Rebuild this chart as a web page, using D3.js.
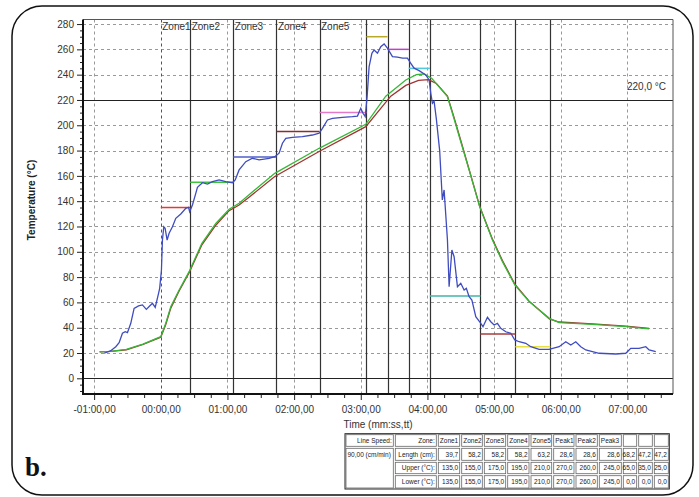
<!DOCTYPE html>
<html>
<head>
<meta charset="utf-8">
<script src="https://cdn.jsdelivr.net/npm/d3@7"></script>
<style>
  body { margin: 0; background: #fff; }
  svg { display: block; font-family: 'Liberation Sans', Arial, sans-serif; }
</style>
</head>
<body>
<script>
// profile data, time in seconds, temperature in °C
const blueCurve = [
  [-51, 19.8], [-45, 21.8], [-40.5, 25], [-37.5, 28.1], [-34.5, 35.6], [-32, 36.8], [-30, 36.1],
  [-27, 43.5], [-24, 55.3], [-20, 57.2], [-16.5, 58], [-13, 54.5], [-10, 57.2], [-7.5, 59.3],
  [-5, 56.1], [-2, 67.2], [-1, 71.1], [0.6, 85.6], [1.5, 109.3], [2.7, 119.8], [3.9, 118.6],
  [5.7, 109.3], [7.5, 114.6], [10.5, 119.8], [13.5, 126.5], [18, 129.9], [22.5, 134.4],
  [25, 135.2], [26, 131.7], [28.5, 137], [31.5, 146.2], [33, 151], [37.5, 154.6], [42, 153.5],
  [46.5, 155.4], [52.5, 156.8], [58.5, 155.4], [64.5, 154.6], [67, 156.8], [70.5, 164.7],
  [76.5, 171.2], [82.5, 173.9], [88.5, 172.6], [97.5, 173.9], [102.6, 175.2], [106.5, 177.9],
  [109.5, 185.8], [112.5, 189.7], [118.5, 190.5], [127.5, 191], [136.5, 192.3], [142.5, 193.7],
  [145.5, 197.6], [150, 204.2], [154.5, 205.5], [163.5, 206.3], [172.5, 206.8], [177, 207.3],
  [180, 213.4], [182, 209.5], [184, 206.8], [185.7, 222.6], [187.5, 246.3], [190, 256.9],
  [192, 259.5], [195, 256.9], [198, 262.1], [201, 264.3], [204, 260.9], [208.5, 254.2],
  [213, 253.8], [217.5, 253], [222, 253], [225, 249], [228, 245.1], [232.5, 243.2],
  [238.5, 239.8], [241.5, 235.8], [243, 225.3], [244.5, 217.4], [246, 219], [248, 205],
  [251, 180], [253.4, 141], [255, 148.9], [258, 109.3], [259.5, 72.4], [262, 101.4], [264, 96.1],
  [267, 72.4], [270, 75.1], [273, 69.8], [275, 71.1], [277.5, 64.5], [280, 61.9], [283.5, 48.7],
  [287, 44.7], [290, 40.8], [294, 48.2], [297, 44.7], [300, 42.1], [303, 43.5], [306, 39.5],
  [310.5, 36.8], [315, 35.6], [318.6, 30.3], [322.5, 28.9], [328.5, 27.7], [333, 25],
  [340.5, 22.9], [349.5, 22.9], [358.5, 25], [364.5, 28.9], [369, 26.3], [373.5, 28.9],
  [378, 25], [382.5, 22.4], [394.5, 19.8], [409.5, 19.2], [418.5, 19.8], [423, 23.7],
  [430.5, 23.7], [436.5, 25], [439.5, 22.4], [445.5, 21]
];

const greenCurve = [
  [-55, 21], [-45, 21.3], [-31, 22.9], [-16, 27.1], [0, 32.9], [4.5, 43.5], [9, 56.6],
  [16.5, 69.8], [25.5, 84.3], [37, 106.7], [49.5, 122.5], [61.5, 133.6], [70.5, 138.3],
  [80, 145.5], [102.6, 162], [142.5, 181.8], [184.5, 200.8], [202.5, 223], [220.5, 235.8],
  [230, 240], [237, 240.5], [244, 237], [250, 231], [258, 222.6], [264, 205], [270, 187],
  [277.5, 164.7], [287, 135.7], [298.5, 109.3], [307.5, 92.2], [318.6, 73.8], [331.5, 60.6],
  [349.7, 47.4], [358.5, 44], [388.5, 42.7], [418.5, 40.8], [439.5, 39]
];

const redCurve = [
  [-55, 21], [-45, 21.3], [-31, 22.5], [-16, 26.8], [0, 32.5], [4.5, 42.5], [9, 55.5],
  [16.5, 69], [25.5, 83.5], [37, 105.5], [49.5, 121], [61.5, 132.5], [70.5, 137],
  [80, 143.5], [102.6, 159.5], [142.5, 179.3], [184.5, 198.9], [207, 223], [220.5, 231.5],
  [232, 235.5], [241, 236], [248, 233], [258, 223], [264, 206], [270, 188],
  [277.5, 165], [287, 136], [298.5, 110], [307.5, 93], [318.6, 74.5], [331.5, 61],
  [349.7, 47], [358.5, 44.5], [388.5, 43], [418.5, 41.2], [439.5, 39.5]
];

// oven table
const lineSpeed = 90; // cm/min
const zoneNames = ['Zone1', 'Zone2', 'Zone3', 'Zone4', 'Zone5', 'Peak1', 'Peak2', 'Peak3', '', '', ''];
const zoneLengths = [39.7, 58.2, 58.2, 58.2, 63.2, 28.6, 28.6, 28.6, 68.2, 47.2, 47.2];
const zoneUpper = [135, 155, 175, 195, 210, 270, 260, 245, 65, 35, 25];
const zoneLower = [135, 155, 175, 195, 210, 270, 260, 245, 0, 0, 0];
const zoneColors = ['#e53935', '#3cc43c', '#5060c8', '#8b2e2e', '#e27ac8', '#b8a82a',
  '#c040c8', '#50c8e0', '#40b4a8', '#a83c3c', '#e8e040'];

const yTicks = d3.range(0, 281, 20);
const xTicks = d3.range(-60, 421, 60);
const refTemp = 220;

const W = 699, H = 497;
const svg = d3.select('body').append('svg').attr('width', W).attr('height', H);

const x = d3.scaleLinear().domain([-70, 461]).range([83, 673]);
const y = d3.scaleLinear().domain([-12.4, 283.6]).range([394, 19.5]);
const [xl, xr] = x.range();
const [yb, yt] = y.range();

// outer rounded frame
svg.append('rect')
  .attr('x', 12).attr('y', 6).attr('width', 681).attr('height', 489)
  .attr('rx', 30).attr('fill', 'none').attr('stroke', '#111').attr('stroke-width', 1.5);

// grid
const grid = svg.append('g').attr('stroke', '#999').attr('stroke-dasharray', '3,3').attr('stroke-width', 1);
grid.selectAll('.hg').data(yTicks.filter(d => d !== 0 && d !== refTemp)).enter()
  .append('line')
  .attr('x1', xl).attr('x2', xr)
  .attr('y1', d => Math.round(y(d)) + 0.5).attr('y2', d => Math.round(y(d)) + 0.5);
grid.selectAll('.vg').data(xTicks).enter()
  .append('line')
  .attr('y1', yt).attr('y2', yb)
  .attr('x1', d => Math.round(x(d)) + 0.5).attr('x2', d => Math.round(x(d)) + 0.5)
  .attr('stroke', d => (d === 0 ? '#555' : '#999'));

// zone boundaries
let acc = 0;
const zoneEdges = [0];
zoneLengths.forEach(l => {
  acc += l / (lineSpeed / 60);
  zoneEdges.push(acc);
});

svg.append('g').selectAll('line').data(zoneEdges.slice(1)).enter()
  .append('line')
  .attr('x1', d => Math.round(x(d)) + 0.5).attr('x2', d => Math.round(x(d)) + 0.5)
  .attr('y1', yt).attr('y2', yb)
  .attr('stroke', '#333').attr('stroke-width', 1.2);

// reference lines
svg.append('line')
  .attr('x1', xl).attr('x2', xr)
  .attr('y1', Math.round(y(refTemp)) + 0.5).attr('y2', Math.round(y(refTemp)) + 0.5)
  .attr('stroke', '#222').attr('stroke-width', 1.2);
svg.append('line')
  .attr('x1', xl).attr('x2', xr)
  .attr('y1', Math.round(y(0)) + 0.5).attr('y2', Math.round(y(0)) + 0.5)
  .attr('stroke', '#222').attr('stroke-width', 1.2);

svg.append('text')
  .attr('x', 627).attr('y', y(refTemp) - 10)
  .attr('font-size', 10).attr('fill', '#333')
  .text('220,0 °C');

// zone labels
svg.append('g').selectAll('text').data(zoneNames.slice(0, 5)).enter()
  .append('text')
  .attr('x', (d, i) => x(zoneEdges[i]) + 1.5)
  .attr('y', 30)
  .attr('font-size', 10).attr('fill', '#333')
  .text(d => d);

// set-point segments
svg.append('g').selectAll('line').data(zoneUpper).enter()
  .append('line')
  .attr('x1', (d, i) => x(zoneEdges[i])).attr('x2', (d, i) => x(zoneEdges[i + 1]))
  .attr('y1', d => y(d)).attr('y2', d => y(d))
  .attr('stroke', (d, i) => zoneColors[i]).attr('stroke-width', 1.5);

// curves
const line = d3.line().x(d => x(d[0])).y(d => y(d[1]));
[[redCurve, '#a03430'], [greenCurve, '#36b836'], [blueCurve, '#3f4cc0']].forEach(([data, col]) => {
  svg.append('path').datum(data)
    .attr('d', line).attr('fill', 'none')
    .attr('stroke', col).attr('stroke-width', 1.3);
});

// plot border
svg.append('path')
  .attr('d', `M${xl},${yt}H${xr}V${yb}`)
  .attr('fill', 'none').attr('stroke', '#555').attr('stroke-width', 1);

// axes
const fmtTime = s => {
  const sign = s < 0 ? '-' : '';
  const a = Math.abs(s);
  const m = Math.floor(a / 60), sec = a % 60;
  return `${sign}${String(m).padStart(2, '0')}:${String(sec).padStart(2, '0')},00`;
};

const yAxis = svg.append('g').attr('transform', `translate(${xl},0)`)
  .call(d3.axisLeft(y).tickValues(yTicks).tickSize(6).tickPadding(3));
svg.append('g').attr('transform', `translate(${xl},0)`)
  .call(d3.axisLeft(y).tickValues(d3.range(-10, 281, 5).filter(d => d % 20 !== 0)).tickSize(3).tickFormat(''));

const xAxis = svg.append('g').attr('transform', `translate(0,${yb})`)
  .call(d3.axisBottom(x).tickValues(xTicks).tickSize(6).tickPadding(6).tickFormat(fmtTime));
svg.append('g').attr('transform', `translate(0,${yb})`)
  .call(d3.axisBottom(x).tickValues(d3.range(-60, 456, 15).filter(d => d % 60 !== 0)).tickSize(4).tickFormat(''));

svg.selectAll('.domain').remove();
svg.selectAll('.tick line').attr('stroke', '#222');
svg.selectAll('.tick text').attr('font-size', 10).attr('fill', '#333')
  .attr('font-family', "'Liberation Sans', Arial, sans-serif");

svg.append('line').attr('x1', xl).attr('x2', xl).attr('y1', yt).attr('y2', yb + 1)
  .attr('stroke', '#111').attr('stroke-width', 2);
svg.append('line').attr('x1', xl - 1).attr('x2', xr).attr('y1', yb).attr('y2', yb)
  .attr('stroke', '#111').attr('stroke-width', 2);

// axis titles
svg.append('text')
  .attr('x', 378).attr('y', 428).attr('text-anchor', 'middle')
  .attr('font-size', 10).attr('fill', '#333')
  .text('Time (mm:ss,tt)');
svg.append('text')
  .attr('transform', 'translate(35,200) rotate(-90)')
  .attr('text-anchor', 'middle')
  .attr('font-size', 10).attr('font-weight', 'bold').attr('fill', '#222')
  .text('Temperature (°C)');

svg.append('text')
  .attr('x', 25).attr('y', 476)
  .attr('font-family', "'Liberation Serif', 'Times New Roman', serif")
  .attr('font-size', 27).attr('font-weight', 'bold').attr('fill', '#111')
  .text('b.');

// table
const colEdges = [345, 394.3, 437.3, 460.7, 483.3, 506.7, 530, 552.7, 575, 598.3, 622.3, 637.7, 653.3, 669.3];
const rowEdges = [433.7, 447.3, 461.3, 474.7, 489];
const fmt1 = v => d3.format('.1f')(v).replace('.', ',');
const table = svg.append('g').attr('font-size', 6.5).attr('fill', '#222');

const cells = [];
const rowLabels = ['Zone:', 'Length (cm):', 'Upper (°C):', 'Lower (°C):'];
const rowValues = [zoneNames, zoneLengths.map(fmt1), zoneUpper.map(fmt1), zoneLower.map(fmt1)];
cells.push({ c0: 0, c1: 1, r0: 0, r1: 1, text: 'Line Speed:', align: 'end' });
cells.push({ c0: 0, c1: 1, r0: 1, r1: 4, text: `${fmt1(lineSpeed)}0 (cm/min)`.replace(',00 ', ',00 '), align: 'start' });
rowLabels.forEach((t, r) => {
  cells.push({ c0: 1, c1: 2, r0: r, r1: r + 1, text: t, align: 'end' });
  rowValues[r].forEach((v, i) => {
    cells.push({ c0: i + 2, c1: i + 3, r0: r, r1: r + 1, text: v, align: r === 0 ? 'start' : 'end' });
  });
});

table.append('rect')
  .attr('x', colEdges[0]).attr('y', rowEdges[0])
  .attr('width', colEdges[colEdges.length - 1] - colEdges[0])
  .attr('height', rowEdges[rowEdges.length - 1] - rowEdges[0])
  .attr('fill', 'none').attr('stroke', '#222').attr('stroke-width', 1);

cells.forEach(c => {
  const x0 = colEdges[c.c0], x1 = colEdges[c.c1], y0 = rowEdges[c.r0], y1 = rowEdges[c.r1];
  table.append('rect')
    .attr('x', x0 + 1).attr('y', y0 + 1)
    .attr('width', x1 - x0 - 2).attr('height', y1 - y0 - 2)
    .attr('fill', 'none').attr('stroke', '#666').attr('stroke-width', 0.8);
  const rowH = rowEdges[c.r0 + 1] - y0;
  table.append('text')
    .attr('x', c.align === 'end' ? x1 - 2.5 : x0 + 2.5)
    .attr('y', y0 + rowH / 2 + 2.3)
    .attr('text-anchor', c.align)
    .text(c.text);
});
</script>
</body>
</html>
